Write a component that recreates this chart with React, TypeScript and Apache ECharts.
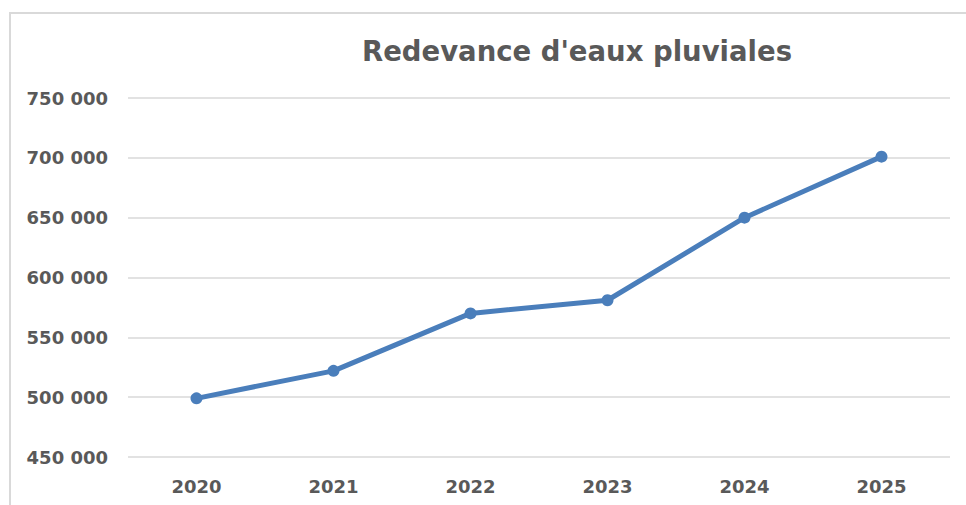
import React, { useEffect, useRef } from "react";
import * as echarts from "echarts";

const categories = ["2020", "2021", "2022", "2023", "2024", "2025"];
const values = [499000, 522000, 570000, 581000, 650000, 701000];
const chartTitle = "Redevance d'eaux pluviales";

export default function App() {
  const ref = useRef<HTMLDivElement>(null);
  useEffect(() => {
    if (!ref.current) return;
    const chart = echarts.init(ref.current, null, { renderer: "svg" });
    chart.setOption({
      animation: false,
      backgroundColor: "#ffffff",
      title: {
        text: chartTitle,
        left: 572,
        textAlign: "center",
        top: 32,
        textStyle: {
          fontFamily: "DejaVu Sans",
          fontWeight: "bold",
          fontSize: 27.5,
          color: "#595959",
        },
      },
      graphic: [
        {
          type: "rect",
          shape: { x: 10, y: 13, width: 980, height: 520 },
          style: { fill: "none", stroke: "#d9d9d9", lineWidth: 2 },
          silent: true,
        },
      ],
      grid: { left: 128, right: 16, top: 98, bottom: 48 },
      xAxis: {
        type: "category",
        data: categories,
        boundaryGap: true,
        axisLine: { show: false },
        axisTick: { show: false },
        axisLabel: {
          margin: 20,
          fontFamily: "DejaVu Sans",
          fontWeight: "bold",
          fontSize: 18,
          color: "#595959",
        },
      },
      yAxis: {
        type: "value",
        min: 450000,
        max: 750000,
        interval: 50000,
        axisLine: { show: false },
        axisTick: { show: false },
        splitLine: { lineStyle: { color: "#d9d9d9", width: 1.5 } },
        axisLabel: {
          margin: 20,
          fontFamily: "DejaVu Sans",
          fontWeight: "bold",
          fontSize: 18,
          color: "#595959",
          formatter: (v: number) =>
            String(v).replace(/\B(?=(\d{3})+(?!\d))/g, " "),
        },
      },
      series: [
        {
          type: "line",
          data: values,
          symbol: "circle",
          symbolSize: 12,
          lineStyle: { color: "#4a7ebb", width: 5 },
          itemStyle: { color: "#4a7ebb" },
        },
      ],
    });
    return () => chart.dispose();
  }, []);
  return (
    <div
      ref={ref}
      style={{ position: "absolute", left: 0, top: 0, width: 966, height: 505 }}
    />
  );
}
